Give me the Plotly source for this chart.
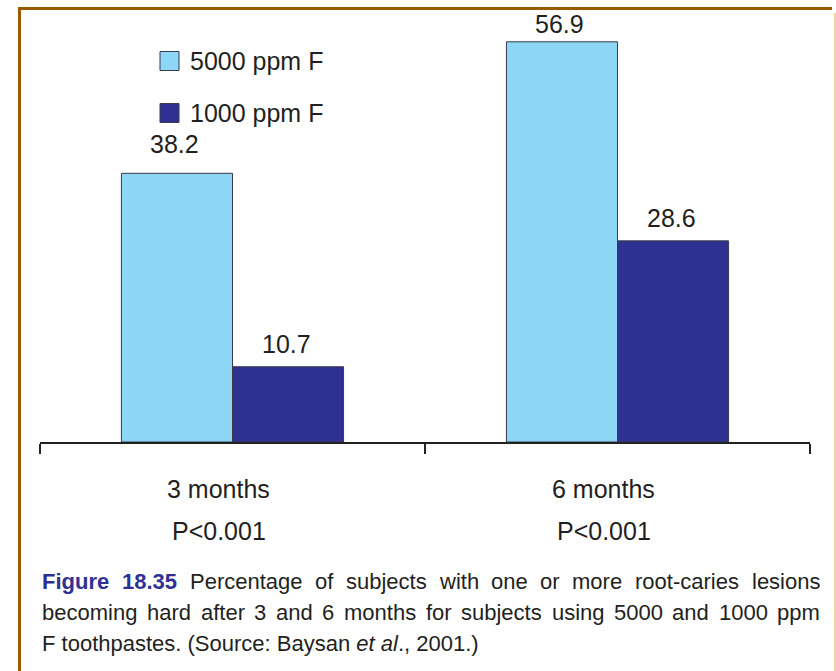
import plotly.graph_objects as go

# ---- data ----
periods = ["3 months", "6 months"]
p_values = ["P<0.001", "P<0.001"]
series_names = ["5000 ppm F", "1000 ppm F"]
series_5000 = [38.2, 56.9]
series_1000 = [10.7, 28.6]
series_values = [series_5000, series_1000]
caption_title = "Figure 18.35"
caption_line1 = "Percentage of subjects with one or more root-caries lesions"
caption_line2 = "becoming hard after 3 and 6 months for subjects using 5000 and 1000 ppm"
caption_line3 = "F toothpastes. (Source: Baysan <i>et al</i>., 2001.)"

# ---- style ----
series_colors = ["#8ed6f6", "#2e3192"]
label_yshift = [[13, 2], [7, 7]]   # per-label offsets in pixels (style only)
W, H = 836, 671
L, R, T, B = 40, 810, 20, 442
bargap = 0.423
ymax = 60
TXT = "#231f20"
FONT = "Liberation Sans, Arial, sans-serif"
CAP_SIZE = 22
CAP_BLUE = "#2e3192"

def px(x):
    return (x - L) / (R - L)

def py(y):
    return (B - y) / (B - T)

# Arial / Liberation Sans advance widths (per 1000 em)
REG = {" ": 278, "-": 333, ".": 278, ",": 278, "P": 667, "F": 611,
       "a": 556, "b": 556, "c": 500, "d": 556, "e": 556, "f": 278, "g": 556,
       "h": 556, "i": 222, "j": 222, "k": 500, "l": 222, "m": 833, "n": 556,
       "o": 556, "p": 556, "q": 556, "r": 333, "s": 500, "t": 278, "u": 556,
       "v": 500, "w": 722, "x": 500, "y": 500, "z": 500}
BOLD = {" ": 278, ".": 278, "F": 611, "i": 278, "g": 611, "u": 611, "r": 389, "e": 556}

def text_w(s, bold=False):
    tab = BOLD if bold else REG
    return sum(tab.get(ch, 556) for ch in s) * CAP_SIZE / 1000

fig = go.Figure()
for name, vals, col in zip(series_names, series_values, series_colors):
    fig.add_trace(go.Bar(
        x=periods, y=vals, name=name,
        marker=dict(color=col, line=dict(color="#3a3a4a", width=1)),
        showlegend=False,
    ))

annotations = []
half = (1 - bargap) / 4
for si, vals in enumerate(series_values):
    off = -half if si == 0 else half
    for ci, v in enumerate(vals):
        annotations.append(dict(
            x=ci + off, y=v, xref="x", yref="y", text=f"{v}",
            showarrow=False, yanchor="bottom", yshift=label_yshift[si][ci], xshift=-2,
            font=dict(size=25, color=TXT, family=FONT),
        ))

for ci, (p, pv) in enumerate(zip(periods, p_values)):
    for txt, yc in ((p, 489), (pv, 531)):
        annotations.append(dict(x=ci, y=py(yc), xref="x", yref="paper", text=txt,
                                showarrow=False, yanchor="middle", xshift=-14,
                                font=dict(size=25, color=TXT, family=FONT)))

shapes = []
# manual legend
leg_y = [61, 113]
for name, col, yc in zip(series_names, series_colors, leg_y):
    shapes.append(dict(type="rect", xref="paper", yref="paper",
                       x0=px(160), x1=px(179), y0=py(yc - 9.5), y1=py(yc + 9.5),
                       fillcolor=col, line=dict(color="#3a3a4a", width=1)))
    annotations.append(dict(x=px(188), y=py(yc), xref="paper", yref="paper",
                            text=name, showarrow=False, xanchor="left", yanchor="middle",
                            font=dict(size=25, color=TXT, family=FONT)))

# caption: justified lines 1-2 (word by word), line 3 ragged
CAP_L, CAP_R = 40, 818
cap_y = [581, 612, 643]

def justified(words, yc):
    total = sum(text_w(w, b) for w, b, c in words)
    gap = (CAP_R - CAP_L - total) / (len(words) - 1)
    x = CAP_L
    for w, b, c in words:
        t = f"<b>{w}</b>" if b else w
        annotations.append(dict(x=px(x), y=py(yc), xref="paper", yref="paper",
                                text=t, showarrow=False, xanchor="left", yanchor="middle",
                                font=dict(size=CAP_SIZE, color=c, family=FONT)))
        x += text_w(w, b) + gap

words1 = [(w, True, CAP_BLUE) for w in caption_title.split()] + \
         [(w, False, TXT) for w in caption_line1.split()]
words2 = [(w, False, TXT) for w in caption_line2.split()]
justified(words1, cap_y[0])
justified(words2, cap_y[1])
annotations.append(dict(x=px(CAP_L), y=py(cap_y[2]), xref="paper", yref="paper",
                        text=caption_line3, showarrow=False, xanchor="left", yanchor="middle",
                        font=dict(size=CAP_SIZE, color=TXT, family=FONT)))

# frame lines
BROWN = "#9a5a00"
shapes.append(dict(type="line", xref="paper", yref="paper", x0=px(18), x1=px(832),
                   y0=py(8.5), y1=py(8.5), line=dict(color=BROWN, width=3)))
shapes.append(dict(type="line", xref="paper", yref="paper", x0=px(19.5), x1=px(19.5),
                   y0=py(7), y1=py(671), line=dict(color=BROWN, width=3)))
shapes.append(dict(type="line", xref="paper", yref="paper", x0=px(835), x1=px(835),
                   y0=py(13), y1=py(671), line=dict(color="#f3c27e", width=1.5)))

fig.update_layout(
    width=W, height=H,
    margin=dict(l=L, r=W - R, t=T, b=H - B, pad=0),
    paper_bgcolor="white", plot_bgcolor="white",
    barmode="group", bargap=bargap, bargroupgap=0,
    annotations=annotations, shapes=shapes,
    xaxis=dict(type="category", range=[-0.5, 1.5], showgrid=False,
               showline=True, linecolor="#222", linewidth=1.5,
               ticks="outside", tickson="boundaries", ticklen=10,
               tickcolor="#222", tickwidth=1.5, showticklabels=False),
    yaxis=dict(range=[0, ymax], visible=False, showgrid=False),
)

fig.write_html("out.html")
